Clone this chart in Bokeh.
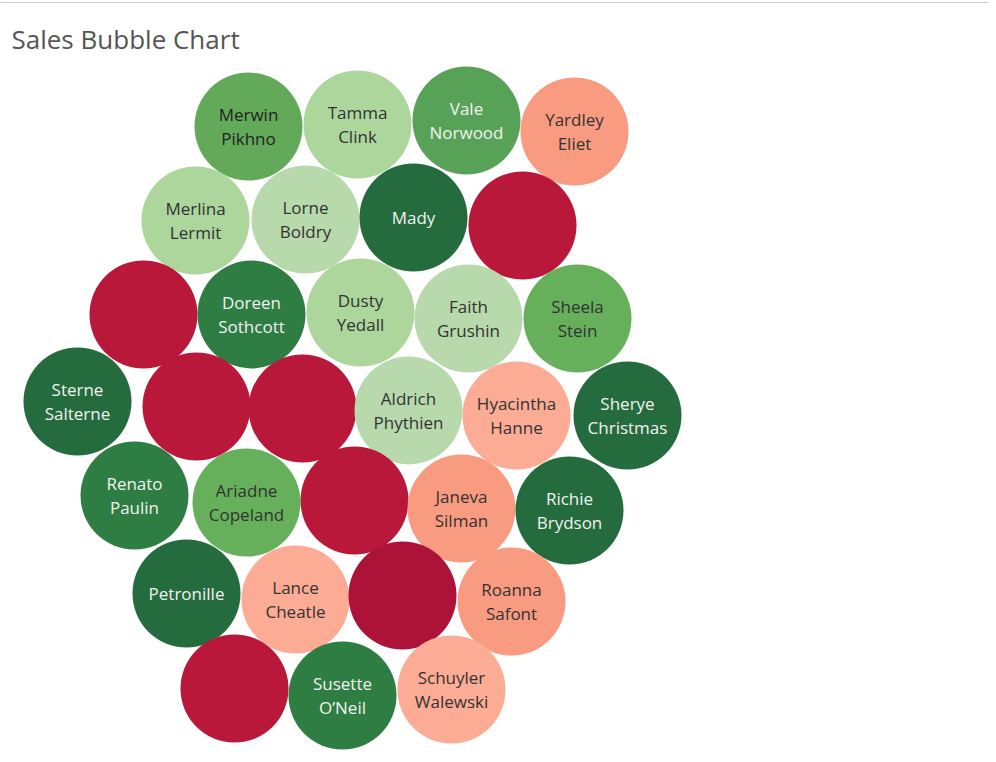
from bokeh.plotting import figure
from bokeh.models import ColumnDataSource
from bokeh.core.properties import value
from bokeh.embed import file_html
from bokeh.resources import INLINE

# names of sales reps (empty = label hidden) and their colour band
names = ["Merwin\nPikhno", "Tamma\nClink", "Vale\nNorwood", "Yardley\nEliet",
         "Merlina\nLermit", "Lorne\nBoldry", "Mady", "",
         "", "Doreen\nSothcott", "Dusty\nYedall", "Faith\nGrushin", "Sheela\nStein",
         "Sterne\nSalterne", "", "", "Aldrich\nPhythien", "Hyacintha\nHanne", "Sherye\nChristmas",
         "Renato\nPaulin", "Ariadne\nCopeland", "", "Janeva\nSilman", "Richie\nBrydson",
         "Petronille", "Lance\nCheatle", "", "Roanna\nSafont",
         "", "Susette\nO\u2019Neil", "Schuyler\nWalewski"]
colors = ["#62aa59", "#acd69c", "#57a257", "#f99b80",
          "#acd69c", "#b7d9ab", "#246b3d", "#b9183a",
          "#b9183a", "#2e7d42", "#acd69c", "#b7d9ab", "#66b05c",
          "#246b3d", "#b9183a", "#b9183a", "#b7d9ab", "#fcab95", "#246b3d",
          "#2e7d42", "#66b05c", "#b9183a", "#f99b80", "#246b3d",
          "#246b3d", "#fcab95", "#ad1238", "#f99b80",
          "#b9183a", "#2e7d42", "#fcab95"]
text_colors = ["#333333" if c in ("#62aa59", "#acd69c", "#f99b80", "#b7d9ab",
                                    "#66b05c", "#fcab95") else "#f2f2f2" for c in colors]
text_colors[0] = "#222222"

# packed-bubble layout (page pixel positions)
px = [248, 357, 466, 574, 195, 305, 413, 522, 143, 251, 360, 468, 577,
      77, 196, 302, 408, 516, 627, 134, 246, 354, 461, 569,
      186, 295, 402, 511, 234, 342, 451]
py = [126, 124, 120, 131, 220, 219, 217, 225, 314, 314, 312, 318, 318,
      401, 406, 408, 410, 415, 415, 495, 502, 500, 508, 510,
      593, 599, 595, 601, 688, 695, 689]

src = ColumnDataSource(dict(x=px, y=py, name=names, color=colors, tc=text_colors))

p = figure(width=988, height=754, x_range=(0, 988), y_range=(754, 0),
           output_backend="svg", toolbar_location=None, min_border=0)
p.axis.visible = False
p.grid.grid_line_color = None
p.outline_line_color = None
p.background_fill_color = "white"

p.circle("x", "y", radius=54, source=src, fill_color="color", line_color=None)
p.text("x", "y", text="name", source=src, text_color="tc", text_align="center",
       text_baseline="middle", text_font=value("Open Sans"), text_font_size="17px",
       text_line_height=1.05)

p.segment(x0=[0], y0=[2], x1=[988], y1=[2], line_color="#cccccc", line_width=1)
p.text(x=[11], y=[38], text=["Sales Bubble Chart"], text_font=value("Open Sans"),
       text_font_size="26px", text_color="#555555", text_baseline="middle")

open("out.html", "w").write(file_html(p, INLINE))
